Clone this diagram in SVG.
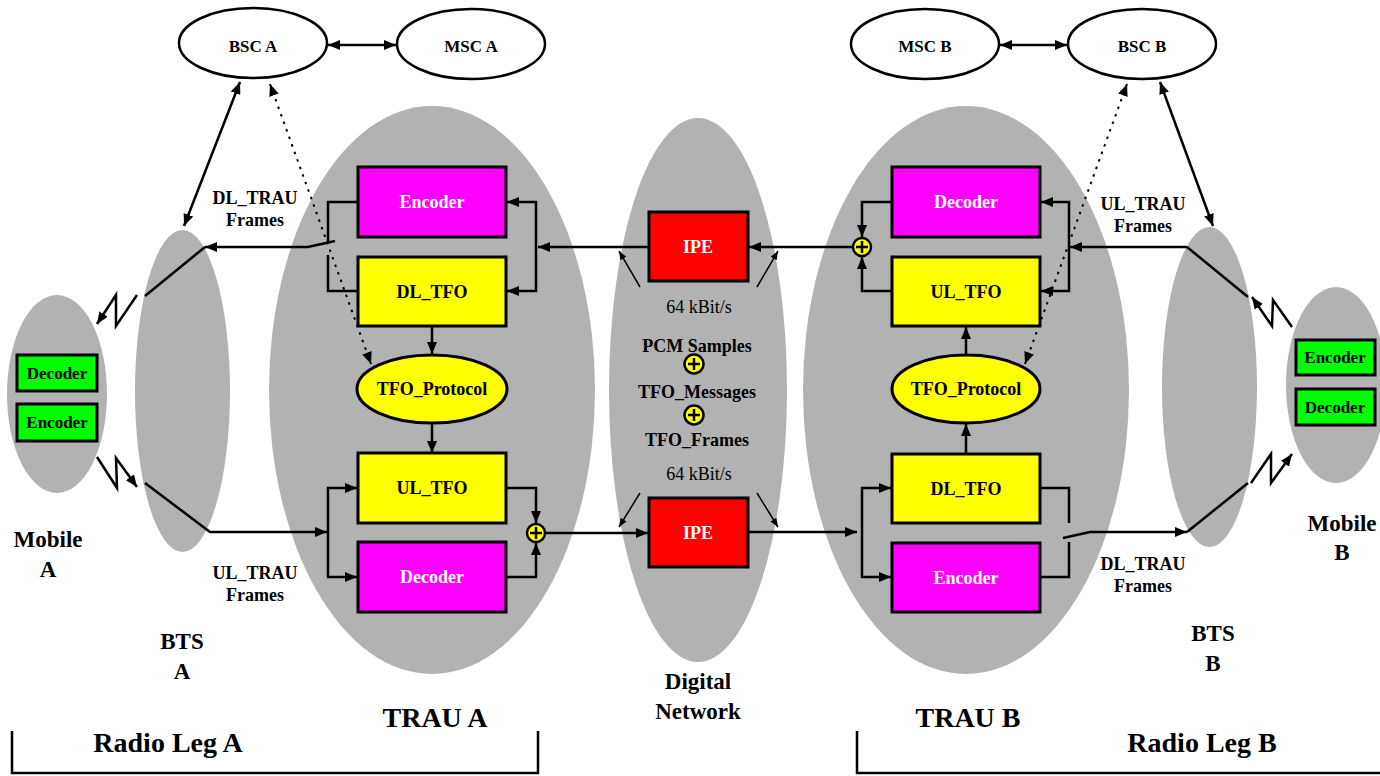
<svg xmlns="http://www.w3.org/2000/svg" width="1380" height="776" viewBox="0 0 1380 776" font-family="'Liberation Serif', 'DejaVu Serif', serif">
<defs>
<style>
.gray{fill:#b2b2b2}
.box{stroke:#000;stroke-width:3}
.enc{fill:#ff00ff}
.tfo{fill:#ffff00}
.ipe{fill:#ff0000}
.mob{fill:#00ff00;stroke:#000;stroke-width:3}
.oval{fill:#fff;stroke:#000;stroke-width:2.5}
.conn{fill:none;stroke:#000;stroke-width:2.5}
.dot{stroke-dasharray:2.5 5.5;stroke-width:2}
.thin{fill:none;stroke:#000;stroke-width:1.5}
.plus{fill:#ffff00;stroke:#000;stroke-width:2.5}
.pl{fill:none;stroke:#000;stroke-width:2.5}
text{font-family:'Liberation Serif','DejaVu Serif',serif;font-weight:bold;text-anchor:middle;fill:#000}
.w{fill:#fff}
.n{font-weight:normal}
.s18{font-size:18px}
.s17{font-size:17px}
.s22{font-size:23px}
.s28{font-size:28px}
</style>
<marker id="ah" viewBox="0 0 12 10" refX="12" refY="5" markerWidth="12" markerHeight="10" markerUnits="userSpaceOnUse" orient="auto-start-reverse"><path d="M0,0 L12,5 L0,10 z" fill="#000"/></marker>
<marker id="ahs" viewBox="0 0 10 8" refX="10" refY="4" markerWidth="9" markerHeight="7" markerUnits="userSpaceOnUse" orient="auto-start-reverse"><path d="M0,0 L10,4 L0,8 z" fill="#000"/></marker>
</defs>
<rect width="1380" height="776" fill="#fff"/>

<!-- container nodes -->
<g id="mobileA">
<ellipse class="gray" cx="57" cy="394" rx="50" ry="99"/>
<text class="s22" x="48" y="547">Mobile</text>
<text class="s22" x="48" y="577">A</text>
</g>
<g id="btsA">
<ellipse class="gray" cx="182.5" cy="391" rx="47.5" ry="161"/>
<text class="s22" x="182" y="649">BTS</text>
<text class="s22" x="182" y="679">A</text>
</g>
<g id="trauA">
<ellipse class="gray" cx="432" cy="390" rx="163" ry="284"/>
<text class="s28" x="435" y="727">TRAU A</text>
</g>
<g id="digitalNetwork">
<ellipse class="gray" cx="698" cy="390" rx="89" ry="272"/>
<text class="s18 n" x="699" y="313">64 kBit/s</text>
<text class="s18" x="697" y="352">PCM Samples</text>
<circle class="plus" cx="694" cy="364" r="9.5"/>
<path class="pl" d="M688,364 H700 M694,358 V370"/>
<text class="s18" x="697" y="398">TFO_Messages</text>
<circle class="plus" cx="694" cy="415" r="9.5"/>
<path class="pl" d="M688,415 H700 M694,409 V421"/>
<text class="s18" x="697" y="446">TFO_Frames</text>
<text class="s18 n" x="699" y="480">64 kBit/s</text>
<text class="s22" x="698" y="689">Digital</text>
<text class="s22" x="698" y="719">Network</text>
</g>
<g id="trauB">
<ellipse class="gray" cx="966" cy="390" rx="163" ry="284"/>
<text class="s28" x="968" y="727">TRAU B</text>
</g>
<g id="btsB">
<ellipse class="gray" cx="1209.5" cy="387" rx="47.5" ry="160"/>
<text class="s22" x="1213" y="641">BTS</text>
<text class="s22" x="1213" y="671">B</text>
</g>
<g id="mobileB">
<ellipse class="gray" cx="1336" cy="385" rx="50" ry="98"/>
<text class="s22" x="1342" y="531">Mobile</text>
<text class="s22" x="1342" y="560">B</text>
</g>

<!-- connectors -->
<g id="connectors">
<line class="conn" x1="328" y1="45" x2="396" y2="45" marker-start="url(#ah)" marker-end="url(#ah)"/>
<line class="conn" x1="1000" y1="45" x2="1067" y2="45" marker-start="url(#ah)" marker-end="url(#ah)"/>
<line class="conn" x1="240" y1="82" x2="184" y2="226" marker-start="url(#ah)" marker-end="url(#ah)"/>
<line class="conn" x1="1160" y1="82" x2="1213" y2="226" marker-start="url(#ah)" marker-end="url(#ah)"/>
<line class="conn dot" x1="270" y1="84" x2="371" y2="364" marker-start="url(#ah)" marker-end="url(#ah)"/>
<line class="conn dot" x1="1127" y1="84" x2="1025" y2="364" marker-start="url(#ah)" marker-end="url(#ah)"/>

<!-- TRAU A downlink -->
<path class="conn" d="M648,247 H538" marker-end="url(#ah)"/>
<path class="conn" d="M536,247 V202 H507" marker-end="url(#ah)"/>
<path class="conn" d="M536,247 V291 H507" marker-end="url(#ah)"/>
<path class="conn" d="M358,202 H328 V242"/>
<path class="conn" d="M358,291 H328 V255"/>
<path class="conn" d="M335,241 L308,247 H205" marker-end="url(#ah)"/>
<path class="conn" d="M205,247 L145,296"/>
<path class="conn" d="M137,295 L116,326 L116,295 L97,324" marker-end="url(#ah)"/>
<path class="conn" d="M432,326 V354" marker-end="url(#ah)"/>
<path class="conn" d="M432,423 V453" marker-end="url(#ah)"/>

<!-- TRAU A uplink -->
<path class="conn" d="M97,457 L117,488 L116,458 L137,487" marker-end="url(#ah)"/>
<path class="conn" d="M145,483 L210,532 H327" marker-end="url(#ah)"/>
<path class="conn" d="M328,532 V488 H357" marker-end="url(#ah)"/>
<path class="conn" d="M328,532 V577 H357" marker-end="url(#ah)"/>
<path class="conn" d="M506,488 H536 V523" marker-end="url(#ah)"/>
<path class="conn" d="M506,577 H536 V543" marker-end="url(#ah)"/>
<path class="conn" d="M546,533 H648" marker-end="url(#ah)"/>

<!-- network -->
<path class="conn" d="M853,247 H749" marker-end="url(#ah)"/>
<path class="conn" d="M749,532 H857" marker-end="url(#ah)"/>
<line class="thin" x1="640" y1="287" x2="619" y2="251" marker-end="url(#ahs)"/>
<line class="thin" x1="757" y1="287" x2="778" y2="251" marker-end="url(#ahs)"/>
<line class="thin" x1="640" y1="493" x2="619" y2="527" marker-end="url(#ahs)"/>
<line class="thin" x1="757" y1="493" x2="778" y2="527" marker-end="url(#ahs)"/>

<!-- TRAU B uplink -->
<path class="conn" d="M892,202 H862 V237" marker-end="url(#ah)"/>
<path class="conn" d="M892,291 H862 V257" marker-end="url(#ah)"/>
<path class="conn" d="M1187,247 H1070" marker-end="url(#ah)"/>
<path class="conn" d="M1069,247 V202 H1041" marker-end="url(#ah)"/>
<path class="conn" d="M1069,247 V291 H1041" marker-end="url(#ah)"/>
<path class="conn" d="M1248,297 L1187,247"/>
<path class="conn" d="M1292,327 L1273,300 L1272,326 L1252,297" marker-end="url(#ah)"/>
<path class="conn" d="M966,355 V327" marker-end="url(#ah)"/>
<path class="conn" d="M966,454 V424" marker-end="url(#ah)"/>

<!-- TRAU B downlink -->
<path class="conn" d="M862,532 V488 H891" marker-end="url(#ah)"/>
<path class="conn" d="M862,532 V577 H891" marker-end="url(#ah)"/>
<path class="conn" d="M1040,488 H1069 V523"/>
<path class="conn" d="M1040,577 H1069 V542"/>
<path class="conn" d="M1063,538 L1090,532 H1187" marker-end="url(#ah)"/>
<path class="conn" d="M1187,532 L1248,483"/>
<path class="conn" d="M1251,483 L1271,454 L1271,483 L1292,454" marker-end="url(#ah)"/>

<!-- brackets -->
<path class="conn" d="M12,731 V773 H538 V731"/>
<path class="conn" d="M857,731 V773 H1382"/>
</g>

<!-- plus junctions -->
<g id="sumA">
<circle class="plus" cx="536" cy="533" r="9"/>
<path class="pl" d="M530,533 H542 M536,527 V539"/>
</g>
<g id="sumB">
<circle class="plus" cx="862" cy="247" r="9"/>
<path class="pl" d="M856,247 H868 M862,241 V253"/>
</g>

<!-- top nodes -->
<g id="bscA">
<ellipse class="oval" cx="253" cy="43" rx="74" ry="35"/>
<text class="s17" x="253" y="52">BSC A</text>
</g>
<g id="mscA">
<ellipse class="oval" cx="471" cy="44" rx="74" ry="35"/>
<text class="s17" x="471" y="52">MSC A</text>
</g>
<g id="mscB">
<ellipse class="oval" cx="925" cy="44" rx="74" ry="35"/>
<text class="s17" x="925" y="52">MSC B</text>
</g>
<g id="bscB">
<ellipse class="oval" cx="1142" cy="44" rx="74" ry="35"/>
<text class="s17" x="1142" y="52">BSC B</text>
</g>

<!-- mobile codec boxes -->
<g id="mobA_decoder"><rect class="mob" x="17" y="355" width="80" height="36"/><text class="s17" x="57" y="379">Decoder</text></g>
<g id="mobA_encoder"><rect class="mob" x="17" y="404" width="80" height="37"/><text class="s17" x="57" y="428">Encoder</text></g>
<g id="mobB_encoder"><rect class="mob" x="1296" y="340" width="79" height="35"/><text class="s17" x="1335" y="363">Encoder</text></g>
<g id="mobB_decoder"><rect class="mob" x="1296" y="389" width="79" height="36"/><text class="s17" x="1335" y="413">Decoder</text></g>

<!-- TRAU A blocks -->
<g id="trauA_encoder"><rect class="box enc" x="358" y="167" width="148" height="70"/><text class="s18 w" x="432" y="208">Encoder</text></g>
<g id="trauA_dltfo"><rect class="box tfo" x="358" y="257" width="148" height="69"/><text class="s18" x="432" y="298">DL_TFO</text></g>
<g id="trauA_protocol"><ellipse class="box tfo" cx="432" cy="389" rx="75" ry="34"/><text class="s18" x="432" y="395">TFO_Protocol</text></g>
<g id="trauA_ultfo"><rect class="box tfo" x="358" y="453" width="148" height="70"/><text class="s18" x="432" y="494">UL_TFO</text></g>
<g id="trauA_decoder"><rect class="box enc" x="358" y="542" width="148" height="70"/><text class="s18 w" x="432" y="583">Decoder</text></g>

<!-- IPE -->
<g id="ipe_top"><rect class="box ipe" x="649" y="212" width="99" height="69"/><text class="s18 w" x="698" y="253">IPE</text></g>
<g id="ipe_bottom"><rect class="box ipe" x="649" y="498" width="99" height="69"/><text class="s18 w" x="698" y="539">IPE</text></g>

<!-- TRAU B blocks -->
<g id="trauB_decoder"><rect class="box enc" x="892" y="167" width="148" height="70"/><text class="s18 w" x="966" y="208">Decoder</text></g>
<g id="trauB_ultfo"><rect class="box tfo" x="892" y="257" width="148" height="69"/><text class="s18" x="966" y="298">UL_TFO</text></g>
<g id="trauB_protocol"><ellipse class="box tfo" cx="966" cy="389" rx="74" ry="34"/><text class="s18" x="966" y="395">TFO_Protocol</text></g>
<g id="trauB_dltfo"><rect class="box tfo" x="892" y="454" width="148" height="69"/><text class="s18" x="966" y="495">DL_TFO</text></g>
<g id="trauB_encoder"><rect class="box enc" x="892" y="543" width="148" height="69"/><text class="s18 w" x="966" y="584">Encoder</text></g>

<!-- frame labels -->
<g id="labels">
<text class="s18" x="255" y="204">DL_TRAU</text>
<text class="s18" x="255" y="226">Frames</text>
<text class="s18" x="255" y="579">UL_TRAU</text>
<text class="s18" x="255" y="601">Frames</text>
<text class="s18" x="1143" y="210">UL_TRAU</text>
<text class="s18" x="1143" y="232">Frames</text>
<text class="s18" x="1143" y="570">DL_TRAU</text>
<text class="s18" x="1143" y="592">Frames</text>
<text class="s28" x="168" y="752">Radio Leg A</text>
<text class="s28" x="1202" y="752">Radio Leg B</text>
</g>
</svg>
